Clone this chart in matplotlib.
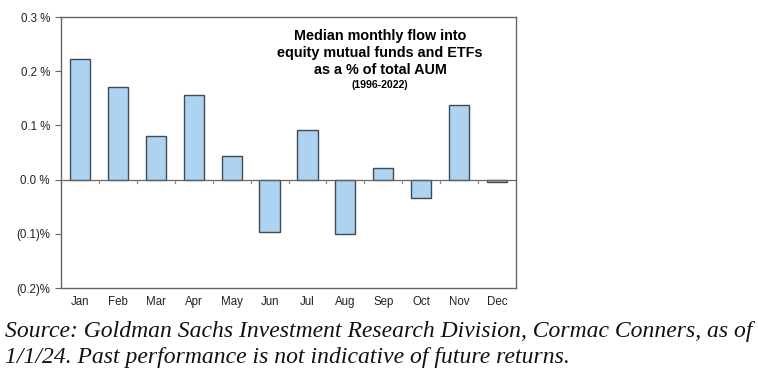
import numpy as np
import matplotlib.pyplot as plt

# Median monthly flow into equity funds/ETFs, % of AUM
months = ["Jan", "Feb", "Mar", "Apr", "May", "Jun",
          "Jul", "Aug", "Sep", "Oct", "Nov", "Dec"]
flows = [0.222, 0.170, 0.080, 0.156, 0.044, -0.096,
         0.092, -0.101, 0.022, -0.034, 0.138, -0.004]
y_ticks = [-0.2, -0.1, 0.0, 0.1, 0.2, 0.3]
y_labels = ["(0.2)%", "(0.1)%", "0.0 %", "0.1 %", "0.2 %", "0.3 %"]

W, H = 758, 382
fig = plt.figure(figsize=(W / 100, H / 100), dpi=100)
ax = fig.add_axes([61 / W, 1 - 288 / H, (516 - 61) / W, (288 - 17) / H])

x = np.arange(len(months))
ax.bar(x, flows, width=0.53, color="#AED3F0", edgecolor="#3F4A55",
       linewidth=1.0, zorder=3)

ax.set_xlim(-0.5, len(months) - 0.5)
ax.set_ylim(-0.2, 0.3)
ax.set_yticks(y_ticks)
ax.set_yticklabels(y_labels, fontsize=8.3, family="Liberation Sans", color="#222222")
ax.tick_params(axis="y", length=4, width=0.8, color="#666666", pad=4)

# month labels sit below the frame; category ticks hang off the zero line
ax.set_xticks([])
for i, m in enumerate(months):
    ax.text(i, -0.226, m, ha="center", va="center", fontsize=8.3,
            family="Liberation Sans", color="#222222")
ax.axhline(0, color="#666666", linewidth=0.9, zorder=4)
for b in np.arange(0.5, len(months) - 0.5, 1.0):
    ax.plot([b, b], [0, -0.006], color="#888888", linewidth=0.9, zorder=4)

for s in ax.spines.values():
    s.set_color("#666666")
    s.set_linewidth(1.0)

ax.text(0.701, 0.955, "Median monthly flow into\nequity mutual funds and ETFs\nas a % of total AUM",
        transform=ax.transAxes, ha="center", va="top", fontsize=10.4,
        fontweight="bold", family="Liberation Sans", linespacing=1.25)
ax.text(0.701, (288 - 85) / 271, "(1996-2022)", transform=ax.transAxes, ha="center",
        va="center", fontsize=7.6, fontweight="bold", family="Liberation Sans")

fig.text(5 / W, 1 - 331 / H,
         "Source: Goldman Sachs Investment Research Division, Cormac Conners, as of",
         ha="left", va="center", fontsize=17, style="italic",
         family="Liberation Serif", color="#111111")
fig.text(5 / W, 1 - 357 / H,
         "1/1/24. Past performance is not indicative of future returns.",
         ha="left", va="center", fontsize=17, style="italic",
         family="Liberation Serif", color="#111111")

fig.savefig("out.png", dpi=100)
